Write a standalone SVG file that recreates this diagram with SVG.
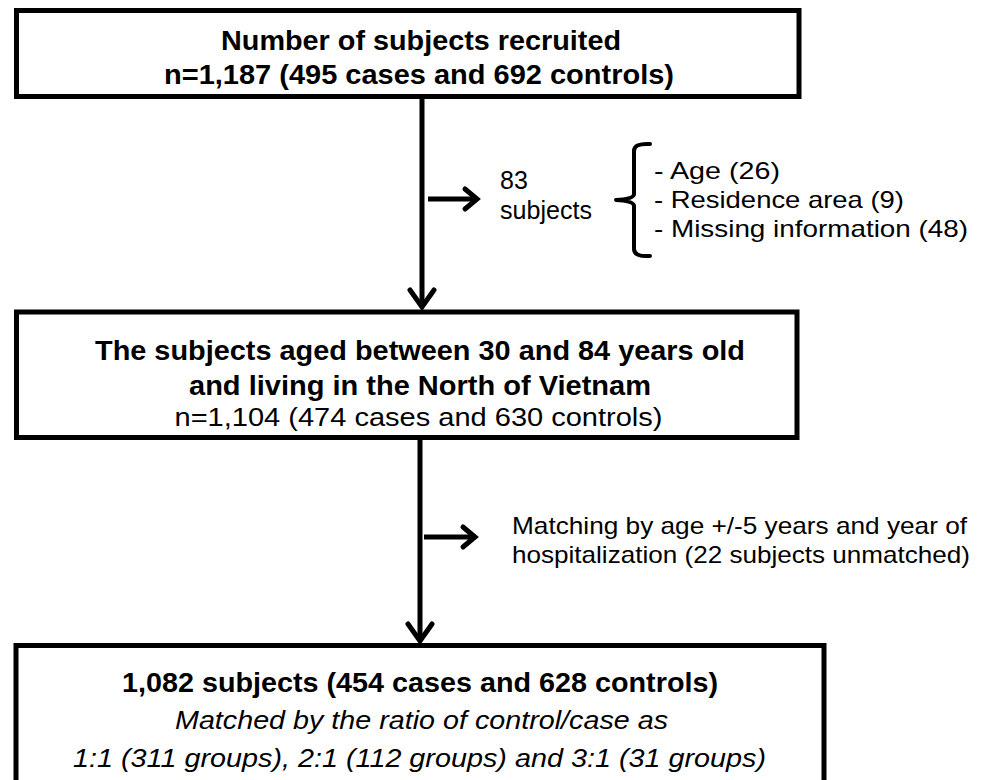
<svg xmlns="http://www.w3.org/2000/svg" width="982" height="780" viewBox="0 0 982 780">
<style>
.box{fill:#fff;stroke:#000;stroke-width:5}
.ln{fill:none;stroke:#000;stroke-width:5;stroke-linecap:butt}
.hd{fill:none;stroke:#000;stroke-width:5;stroke-linecap:round;stroke-linejoin:miter}
text{font-family:"Liberation Sans",Arial,Helvetica,sans-serif;fill:#000}
.b{font-weight:bold;font-size:28px}
.r{font-size:25px}
.i{font-style:italic;font-size:26px}
.s{font-size:24px}
.s2{font-size:25px}
</style>
<rect width="982" height="780" fill="#fff"/>
<g id="connectors">
<line class="ln" x1="422" y1="99" x2="422" y2="306"/>
<polyline class="hd" points="410,290 422,307 434,290"/>
<line class="ln" x1="428" y1="199" x2="477" y2="199"/>
<polyline class="hd" points="465,189 477,199 465,209"/>
<line class="ln" x1="420" y1="440" x2="420" y2="640"/>
<polyline class="hd" points="408,624 420,641 432,624"/>
<line class="ln" x1="424" y1="537" x2="475" y2="537"/>
<polyline class="hd" points="463,527 475,537 463,547"/>
</g>
<g id="node1">
<rect class="box" x="16.5" y="10.5" width="782.5" height="86"/>
<text class="b" x="421" y="50" text-anchor="middle" textLength="400" lengthAdjust="spacingAndGlyphs">Number of subjects recruited</text>
<text class="b" x="419" y="84" text-anchor="middle" textLength="510" lengthAdjust="spacingAndGlyphs">n=1,187 (495 cases and 692 controls)</text>
</g>
<g id="excluded1">
<text class="s2" x="500" y="189">83</text>
<text class="s2" x="500" y="219" textLength="92" lengthAdjust="spacingAndGlyphs">subjects</text>
<path d="M650,144 Q634,143 634,151 L634,194 Q634,199 616,200 Q634,201 634,206 L634,249 Q634,257 650,256" fill="none" stroke="#000" stroke-width="4" stroke-linejoin="round" stroke-linecap="round"/>
<text class="s" x="654" y="179" textLength="126" lengthAdjust="spacingAndGlyphs">- Age (26)</text>
<text class="s" x="654" y="208" textLength="250" lengthAdjust="spacingAndGlyphs">- Residence area (9)</text>
<text class="s" x="654" y="237" textLength="314" lengthAdjust="spacingAndGlyphs">- Missing information (48)</text>
</g>
<g id="node2">
<rect class="box" x="16.5" y="312" width="780.5" height="125.5"/>
<text class="b" x="420" y="360" text-anchor="middle" textLength="650" lengthAdjust="spacingAndGlyphs">The subjects aged between 30 and 84 years old</text>
<text class="b" x="420" y="395" text-anchor="middle" textLength="462" lengthAdjust="spacingAndGlyphs">and living in the North of Vietnam</text>
<text class="r" x="418.5" y="426" text-anchor="middle" textLength="488" lengthAdjust="spacingAndGlyphs">n=1,104 (474 cases and 630 controls)</text>
</g>
<g id="excluded2">
<text class="s" x="512" y="534" textLength="455" lengthAdjust="spacingAndGlyphs">Matching by age +/-5 years and year of</text>
<text class="s" x="512" y="563" textLength="458" lengthAdjust="spacingAndGlyphs">hospitalization (22 subjects unmatched)</text>
</g>
<g id="node3">
<rect class="box" x="16" y="645.5" width="808" height="200"/>
<text class="b" x="420" y="692" text-anchor="middle" textLength="596" lengthAdjust="spacingAndGlyphs">1,082 subjects (454 cases and 628 controls)</text>
<text class="i" x="421.5" y="729" text-anchor="middle" textLength="493" lengthAdjust="spacingAndGlyphs">Matched by the ratio of control/case as</text>
<text class="i" x="419.5" y="767" text-anchor="middle" textLength="693" lengthAdjust="spacingAndGlyphs">1:1 (311 groups), 2:1 (112 groups) and 3:1 (31 groups)</text>
</g>
</svg>
